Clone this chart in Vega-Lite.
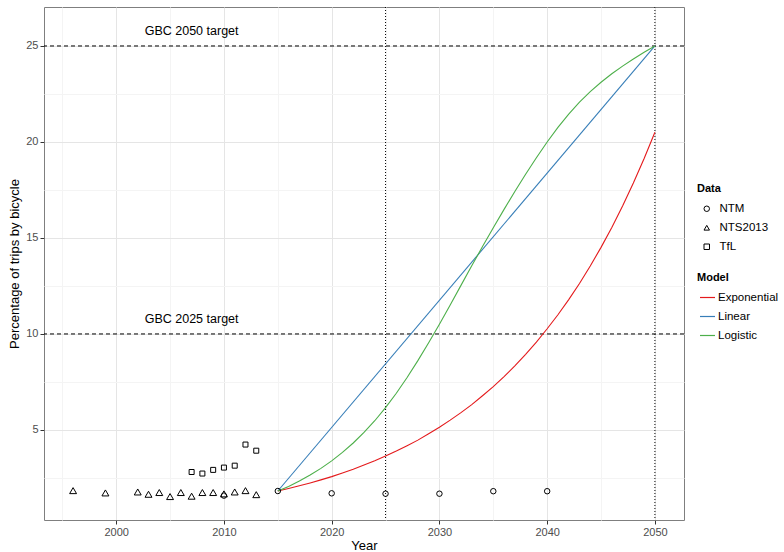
{
  "$schema": "https://vega.github.io/schema/vega-lite/v6.json",
  "autosize": {"type": "none"},
  "width": 640,
  "height": 513,
  "padding": {"left": 44, "top": 7, "right": 100, "bottom": 32},
  "background": "white",
  "config": {
    "font": "Liberation Sans",
    "view": {"stroke": "#7F7F7F", "strokeWidth": 1},
    "axis": {
      "domain": false,
      "tickColor": "#333333",
      "tickSize": 4,
      "labelColor": "#4D4D4D",
      "labelFontSize": 11,
      "labelPadding": 2,
      "titleFontSize": 13,
      "titleFontWeight": "normal",
      "titleColor": "black",
      "gridWidth": 1
    },
    "legend": {
      "titleFontSize": 11,
      "titleFontWeight": "bold",
      "titleColor": "black",
      "labelFontSize": 11.5,
      "labelColor": "black"
    }
  },
  "datasets": {
    "observed": [
      {"year": 1996, "pct": 1.84, "source": "NTS2013"},
      {"year": 1999, "pct": 1.72, "source": "NTS2013"},
      {"year": 2002, "pct": 1.77, "source": "NTS2013"},
      {"year": 2003, "pct": 1.65, "source": "NTS2013"},
      {"year": 2004, "pct": 1.74, "source": "NTS2013"},
      {"year": 2005, "pct": 1.53, "source": "NTS2013"},
      {"year": 2006, "pct": 1.74, "source": "NTS2013"},
      {"year": 2007, "pct": 1.55, "source": "NTS2013"},
      {"year": 2008, "pct": 1.74, "source": "NTS2013"},
      {"year": 2009, "pct": 1.74, "source": "NTS2013"},
      {"year": 2010, "pct": 1.67, "source": "NTS2013"},
      {"year": 2011, "pct": 1.77, "source": "NTS2013"},
      {"year": 2012, "pct": 1.84, "source": "NTS2013"},
      {"year": 2013, "pct": 1.63, "source": "NTS2013"},
      {"year": 2007, "pct": 2.81, "source": "TfL"},
      {"year": 2008, "pct": 2.73, "source": "TfL"},
      {"year": 2009, "pct": 2.92, "source": "TfL"},
      {"year": 2010, "pct": 3.04, "source": "TfL"},
      {"year": 2011, "pct": 3.14, "source": "TfL"},
      {"year": 2012, "pct": 4.24, "source": "TfL"},
      {"year": 2013, "pct": 3.92, "source": "TfL"},
      {"year": 2010, "pct": 1.58, "source": "NTM"},
      {"year": 2015, "pct": 1.82, "source": "NTM"},
      {"year": 2020, "pct": 1.70, "source": "NTM"},
      {"year": 2025, "pct": 1.68, "source": "NTM"},
      {"year": 2030, "pct": 1.68, "source": "NTM"},
      {"year": 2035, "pct": 1.81, "source": "NTM"},
      {"year": 2040, "pct": 1.81, "source": "NTM"}
    ],
    "models": [
      {"year": 2015, "pct": 1.82, "model": "Linear"},
      {"year": 2050, "pct": 25.0, "model": "Linear"},

      {"year": 2015, "pct": 1.82, "model": "Exponential"},
      {"year": 2016, "pct": 1.95, "model": "Exponential"},
      {"year": 2017, "pct": 2.09, "model": "Exponential"},
      {"year": 2018, "pct": 2.24, "model": "Exponential"},
      {"year": 2019, "pct": 2.40, "model": "Exponential"},
      {"year": 2020, "pct": 2.57, "model": "Exponential"},
      {"year": 2021, "pct": 2.76, "model": "Exponential"},
      {"year": 2022, "pct": 2.95, "model": "Exponential"},
      {"year": 2023, "pct": 3.17, "model": "Exponential"},
      {"year": 2024, "pct": 3.39, "model": "Exponential"},
      {"year": 2025, "pct": 3.64, "model": "Exponential"},
      {"year": 2026, "pct": 3.90, "model": "Exponential"},
      {"year": 2027, "pct": 4.18, "model": "Exponential"},
      {"year": 2028, "pct": 4.47, "model": "Exponential"},
      {"year": 2029, "pct": 4.80, "model": "Exponential"},
      {"year": 2030, "pct": 5.14, "model": "Exponential"},
      {"year": 2031, "pct": 5.51, "model": "Exponential"},
      {"year": 2032, "pct": 5.90, "model": "Exponential"},
      {"year": 2033, "pct": 6.32, "model": "Exponential"},
      {"year": 2034, "pct": 6.78, "model": "Exponential"},
      {"year": 2035, "pct": 7.26, "model": "Exponential"},
      {"year": 2036, "pct": 7.78, "model": "Exponential"},
      {"year": 2037, "pct": 8.34, "model": "Exponential"},
      {"year": 2038, "pct": 8.94, "model": "Exponential"},
      {"year": 2039, "pct": 9.58, "model": "Exponential"},
      {"year": 2040, "pct": 10.27, "model": "Exponential"},
      {"year": 2041, "pct": 11.00, "model": "Exponential"},
      {"year": 2042, "pct": 11.79, "model": "Exponential"},
      {"year": 2043, "pct": 12.63, "model": "Exponential"},
      {"year": 2044, "pct": 13.54, "model": "Exponential"},
      {"year": 2045, "pct": 14.51, "model": "Exponential"},
      {"year": 2046, "pct": 15.55, "model": "Exponential"},
      {"year": 2047, "pct": 16.66, "model": "Exponential"},
      {"year": 2048, "pct": 17.86, "model": "Exponential"},
      {"year": 2049, "pct": 19.14, "model": "Exponential"},
      {"year": 2050, "pct": 20.51, "model": "Exponential"},

      {"year": 2015, "pct": 1.82, "model": "Logistic"},
      {"year": 2016, "pct": 2.06, "model": "Logistic"},
      {"year": 2017, "pct": 2.34, "model": "Logistic"},
      {"year": 2018, "pct": 2.65, "model": "Logistic"},
      {"year": 2019, "pct": 3.00, "model": "Logistic"},
      {"year": 2020, "pct": 3.39, "model": "Logistic"},
      {"year": 2021, "pct": 3.83, "model": "Logistic"},
      {"year": 2022, "pct": 4.32, "model": "Logistic"},
      {"year": 2023, "pct": 4.87, "model": "Logistic"},
      {"year": 2024, "pct": 5.48, "model": "Logistic"},
      {"year": 2025, "pct": 6.16, "model": "Logistic"},
      {"year": 2026, "pct": 6.91, "model": "Logistic"},
      {"year": 2027, "pct": 7.73, "model": "Logistic"},
      {"year": 2028, "pct": 8.61, "model": "Logistic"},
      {"year": 2029, "pct": 9.54, "model": "Logistic"},
      {"year": 2030, "pct": 10.51, "model": "Logistic"},
      {"year": 2031, "pct": 11.51, "model": "Logistic"},
      {"year": 2032, "pct": 12.53, "model": "Logistic"},
      {"year": 2033, "pct": 13.55, "model": "Logistic"},
      {"year": 2034, "pct": 14.55, "model": "Logistic"},
      {"year": 2035, "pct": 15.53, "model": "Logistic"},
      {"year": 2036, "pct": 16.49, "model": "Logistic"},
      {"year": 2037, "pct": 17.42, "model": "Logistic"},
      {"year": 2038, "pct": 18.32, "model": "Logistic"},
      {"year": 2039, "pct": 19.18, "model": "Logistic"},
      {"year": 2040, "pct": 20.00, "model": "Logistic"},
      {"year": 2041, "pct": 20.76, "model": "Logistic"},
      {"year": 2042, "pct": 21.45, "model": "Logistic"},
      {"year": 2043, "pct": 22.07, "model": "Logistic"},
      {"year": 2044, "pct": 22.62, "model": "Logistic"},
      {"year": 2045, "pct": 23.11, "model": "Logistic"},
      {"year": 2046, "pct": 23.55, "model": "Logistic"},
      {"year": 2047, "pct": 23.95, "model": "Logistic"},
      {"year": 2048, "pct": 24.32, "model": "Logistic"},
      {"year": 2049, "pct": 24.67, "model": "Logistic"},
      {"year": 2050, "pct": 25.00, "model": "Logistic"}
    ],
    "targets": [
      {"target": "GBC 2025 target", "pct": 10},
      {"target": "GBC 2050 target", "pct": 25}
    ],
    "milestones": [
      {"year": 2025},
      {"year": 2050}
    ]
  },
  "layer": [
    {
      "data": {"name": "targets"},
      "mark": {"type": "rule", "stroke": "black", "strokeWidth": 1, "strokeDash": [4, 3]},
      "encoding": {
        "y": {
          "field": "pct",
          "type": "quantitative",
          "scale": {"domain": [0.31, 27.03], "nice": false, "zero": false},
          "axis": {
            "title": "Percentage of trips by bicycle",
            "titlePadding": 4,
            "values": [2.5, 5, 7.5, 10, 12.5, 15, 17.5, 20, 22.5, 25],
            "labelExpr": "datum.value % 5 === 0 ? datum.label : ''",
            "tickOpacity": {"condition": {"test": "datum.value % 5 === 0", "value": 1}, "value": 0},
            "grid": true,
            "gridColor": {"condition": {"test": "datum.value % 5 === 0", "value": "#E5E5E5"}, "value": "#F4F4F4"}
          }
        }
      }
    },
    {
      "data": {"name": "targets"},
      "mark": {"type": "text", "fontSize": 12.5, "color": "black", "dy": -15, "font": "Liberation Sans"},
      "encoding": {
        "x": {"datum": 2007},
        "y": {"field": "pct", "type": "quantitative"},
        "text": {"field": "target"}
      }
    },
    {
      "data": {"name": "milestones"},
      "mark": {"type": "rule", "stroke": "black", "strokeWidth": 1, "strokeDash": [1, 2]},
      "encoding": {
        "x": {
          "field": "year",
          "type": "quantitative",
          "scale": {"domain": [1993.3, 2052.7], "nice": false, "zero": false},
          "axis": {
            "title": "Year",
            "titlePadding": 2,
            "format": "d",
            "values": [1995, 2000, 2005, 2010, 2015, 2020, 2025, 2030, 2035, 2040, 2045, 2050],
            "labelExpr": "datum.value % 10 === 0 ? datum.label : ''",
            "tickOpacity": {"condition": {"test": "datum.value % 10 === 0", "value": 1}, "value": 0},
            "grid": true,
            "gridColor": {"condition": {"test": "datum.value % 10 === 0", "value": "#E5E5E5"}, "value": "#F4F4F4"}
          }
        }
      }
    },
    {
      "data": {"name": "models"},
      "mark": {"type": "line", "strokeWidth": 1.1},
      "encoding": {
        "x": {"field": "year", "type": "quantitative"},
        "y": {"field": "pct", "type": "quantitative"},
        "color": {
          "field": "model",
          "type": "nominal",
          "scale": {"domain": ["Exponential", "Linear", "Logistic"], "range": ["#E41A1C", "#377EB8", "#4DAF4A"]},
          "legend": {
            "title": "Model",
            "orient": "none",
            "legendX": 653,
            "legendY": 265,
            "symbolType": "stroke",
            "symbolSize": 225,
            "symbolStrokeWidth": 1.2,
            "symbolOffset": 2,
            "labelOffset": 2,
            "rowPadding": 5,
            "titlePadding": 6
          }
        }
      }
    },
    {
      "data": {"name": "observed"},
      "transform": [{"filter": "datum.source === 'NTS2013'"}],
      "mark": {"type": "point", "filled": false, "stroke": "black", "strokeWidth": 1, "opacity": 1, "size": 48},
      "encoding": {
        "x": {"field": "year", "type": "quantitative"},
        "y": {"field": "pct", "type": "quantitative"},
        "shape": {
          "field": "source",
          "type": "nominal",
          "scale": {"domain": ["NTM", "NTS2013", "TfL"], "range": ["circle", "triangle-up", "square"]},
          "legend": {
            "title": "Data",
            "orient": "none",
            "legendX": 653,
            "legendY": 176,
            "symbolSize": 30,
            "symbolStrokeColor": "black",
            "symbolStrokeWidth": 1,
            "symbolFillColor": "transparent",
            "symbolOffset": 4,
            "labelOffset": 7,
            "rowPadding": 6,
            "titlePadding": 9
          }
        }
      }
    },
    {
      "data": {"name": "observed"},
      "transform": [{"filter": "datum.source === 'TfL'"}],
      "mark": {"type": "point", "filled": false, "stroke": "black", "strokeWidth": 1, "opacity": 1, "size": 25},
      "encoding": {
        "x": {"field": "year", "type": "quantitative"},
        "y": {"field": "pct", "type": "quantitative"},
        "shape": {"field": "source", "type": "nominal"}
      }
    },
    {
      "data": {"name": "observed"},
      "transform": [{"filter": "datum.source === 'NTM'"}],
      "mark": {"type": "point", "filled": false, "stroke": "black", "strokeWidth": 1, "opacity": 1, "size": 30},
      "encoding": {
        "x": {"field": "year", "type": "quantitative"},
        "y": {"field": "pct", "type": "quantitative"},
        "shape": {"field": "source", "type": "nominal"}
      }
    }
  ]
}
